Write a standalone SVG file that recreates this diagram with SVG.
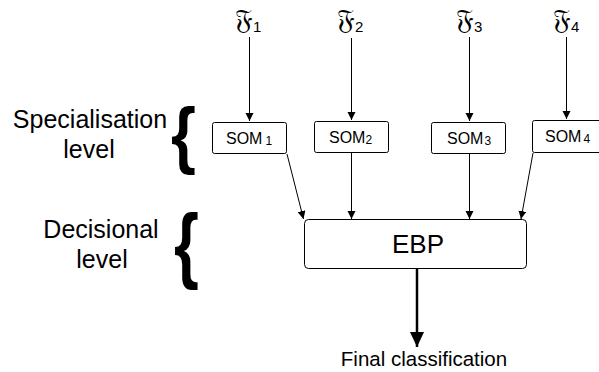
<svg xmlns="http://www.w3.org/2000/svg" width="599" height="372" viewBox="0 0 599 372">
<defs>
<style>
.t{font-family:"Liberation Sans",Arial,sans-serif;fill:#000}
.lbl{font-size:25px;text-anchor:middle}
.som{font-size:16px}
.sub{font-size:12px}
.fr{font-family:"DejaVu Serif","DejaVu Sans",serif;font-size:28px}
.fs{font-family:"Liberation Sans",Arial,sans-serif;font-size:15px}
.box{fill:#fff;stroke:#000;stroke-width:1}
.ln{stroke:#000;stroke-width:1;fill:none}
.brace{font-family:"Liberation Sans",Arial,sans-serif;font-weight:bold;font-size:64px}
</style>
<marker id="ah" markerWidth="10" markerHeight="10" refX="8" refY="4" orient="auto" markerUnits="userSpaceOnUse">
<path d="M0,0 L8,4 L0,8 Z" fill="#000"/>
</marker>
<marker id="ahb" markerWidth="16" markerHeight="16" refX="15" refY="7" orient="auto" markerUnits="userSpaceOnUse">
<path d="M0,0 L15,7 L0,14 Z" fill="#000"/>
</marker>
</defs>
<g id="labels">
<text class="t lbl" x="90" y="128">Specialisation</text>
<text class="t lbl" x="89" y="158">level</text>
<text class="t lbl" x="101" y="238">Decisional</text>
<text class="t lbl" x="102" y="268">level</text>
<text class="t brace" x="171" y="0" transform="translate(0,159.5) scale(1,1.17)">{</text>
<text class="t brace" x="174" y="0" transform="translate(0,273.4) scale(1,1.29)">{</text>
</g>
<g id="inputs">
<text class="fr" x="235" y="29">𝔉<tspan class="fs" dy="3">1</tspan></text>
<text class="fr" x="337" y="29">𝔉<tspan class="fs" dy="3">2</tspan></text>
<text class="fr" x="456" y="29">𝔉<tspan class="fs" dy="3">3</tspan></text>
<text class="fr" x="553" y="29">𝔉<tspan class="fs" dy="3">4</tspan></text>
</g>
<g id="som1">
<rect class="box" x="212.5" y="122.5" width="74" height="31" rx="2"/>
<text class="t som" x="226" y="144">SOM<tspan class="sub" dx="3" dy="1">1</tspan></text>
</g>
<g id="som2">
<rect class="box" x="314.5" y="121.5" width="74" height="31" rx="2"/>
<text class="t som" x="329" y="143">SOM<tspan class="sub" dy="1">2</tspan></text>
</g>
<g id="som3">
<rect class="box" x="431.5" y="122.5" width="74" height="31" rx="2"/>
<text class="t som" x="447" y="144">SOM<tspan class="sub" dx="1" dy="1">3</tspan></text>
</g>
<g id="som4">
<rect class="box" x="532.5" y="120.5" width="74" height="32" rx="2"/>
<text class="t som" x="545" y="142">SOM<tspan class="sub" dx="2" dy="1">4</tspan></text>
</g>
<g id="ebp">
<rect class="box" x="304.5" y="219.5" width="222" height="49" rx="4"/>
<text class="t" x="418" y="253" style="font-size:26px;text-anchor:middle">EBP</text>
</g>
<g id="output">
<text class="t" x="424" y="366" style="font-size:20.5px;text-anchor:middle">Final classification</text>
</g>
<g id="connectors">
<line class="ln" x1="249.5" y1="37" x2="249.5" y2="121" marker-end="url(#ah)"/>
<line class="ln" x1="351.5" y1="38" x2="351.5" y2="120" marker-end="url(#ah)"/>
<line class="ln" x1="469.5" y1="37" x2="469.5" y2="121" marker-end="url(#ah)"/>
<line class="ln" x1="566.5" y1="37" x2="566.5" y2="119" marker-end="url(#ah)"/>
<line class="ln" x1="287" y1="154" x2="303.5" y2="219" marker-end="url(#ah)"/>
<line class="ln" x1="351.5" y1="153" x2="351.5" y2="219" marker-end="url(#ah)"/>
<line class="ln" x1="469.5" y1="154" x2="469.5" y2="219" marker-end="url(#ah)"/>
<line class="ln" x1="533" y1="153" x2="521" y2="219" marker-end="url(#ah)"/>
<line x1="417" y1="269" x2="417" y2="347" stroke="#000" stroke-width="2.5" marker-end="url(#ahb)"/>
</g>
</svg>
